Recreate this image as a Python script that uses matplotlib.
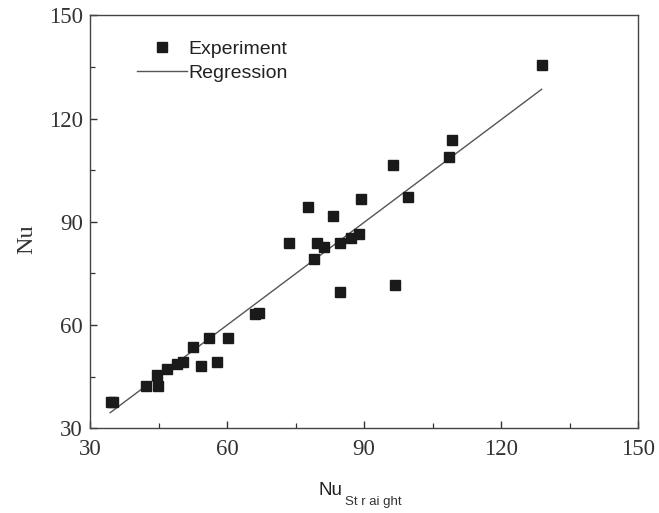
import matplotlib
matplotlib.use("Agg")
import matplotlib.pyplot as plt
import numpy as np
from matplotlib.ticker import MultipleLocator

# measured Nusselt numbers vs. straight-channel prediction
nu_straight = [34.5, 35.0, 42.3, 44.8, 44.7, 46.8, 49.1, 50.3, 52.5, 54.2,
               56.1, 57.7, 60.3, 66.1, 66.9, 73.6, 77.8, 79.1, 79.6, 81.2,
               83.1, 84.7, 84.7, 87.1, 89.0, 89.3, 96.4, 96.7, 99.7, 108.7,
               109.3, 129.0]
nu_exp = [37.7, 37.7, 42.3, 42.3, 45.5, 47.1, 48.6, 49.3, 53.7, 48.2,
          56.2, 49.4, 56.2, 63.2, 63.6, 84.0, 94.2, 79.1, 84.0, 82.6,
          91.8, 84.0, 69.7, 85.2, 86.4, 96.7, 106.5, 71.7, 97.2, 109.0,
          113.8, 135.6]

# fitted line Nu = a * Nu_straight + b over the data range
reg_slope = 0.995
reg_intercept = 0.3
reg_range = [34.4, 128.9]

ticks = [30, 60, 90, 120, 150]

serif = ["Liberation Serif", "DejaVu Serif"]
sans = ["Liberation Sans", "DejaVu Sans"]

fig = plt.figure(figsize=(6.59, 5.13), dpi=100)
ax = fig.add_axes([0.1366, 0.1651, 0.8316, 0.8047])

x_fit = np.array(reg_range)
y_fit = reg_slope * x_fit + reg_intercept

ax.plot(nu_straight, nu_exp, linestyle="none", marker="s", markersize=7.3,
        color="#1a1a1a", label="Experiment", zorder=3)
ax.plot(x_fit, y_fit, color="#555555", linewidth=1.0, label="Regression", zorder=2)

ax.set_xlim(30, 150)
ax.set_ylim(30, 150)
ax.set_xticks(ticks)
ax.set_yticks(ticks)
ax.xaxis.set_minor_locator(MultipleLocator(15))
ax.yaxis.set_minor_locator(MultipleLocator(15))
ax.tick_params(which="both", direction="in", top=False, right=False, colors="#333333")
ax.tick_params(which="major", length=5, width=1.0)
ax.tick_params(which="minor", length=3.5, width=0.9)
ax.tick_params(axis="x", pad=8)
ax.tick_params(axis="y", pad=5)
for lab in ax.get_xticklabels() + ax.get_yticklabels():
    lab.set_family(serif)
    lab.set_fontsize(16.5)
    lab.set_color("#333333")

for sp in ax.spines.values():
    sp.set_color("#444444")
    sp.set_linewidth(1.0)

ax.set_ylabel("Nu", family=serif, fontsize=17.5, color="#333333",
              rotation=90, ha="center", va="center")
ax.yaxis.set_label_coords(-0.116, 0.4586)

# x label: "Nu" with a spaced-out subscript
fig.text(318 / 659, 1 - 495 / 513, "Nu", family=sans, fontsize=13.5,
         color="#222222", ha="left", va="baseline")
fig.text(345 / 659, 1 - 505 / 513, "St r ai ght", family=sans, fontsize=9.5,
         color="#333333", ha="left", va="baseline")

leg = ax.legend(loc="upper left", bbox_to_anchor=(0.085, 0.94), frameon=False,
                prop={"family": sans, "size": 14}, handlelength=2.6,
                handletextpad=0.05, labelspacing=0.35, borderpad=0,
                borderaxespad=0)
for t in leg.get_texts():
    t.set_color("#222222")

fig.savefig("out.png", dpi=100)
